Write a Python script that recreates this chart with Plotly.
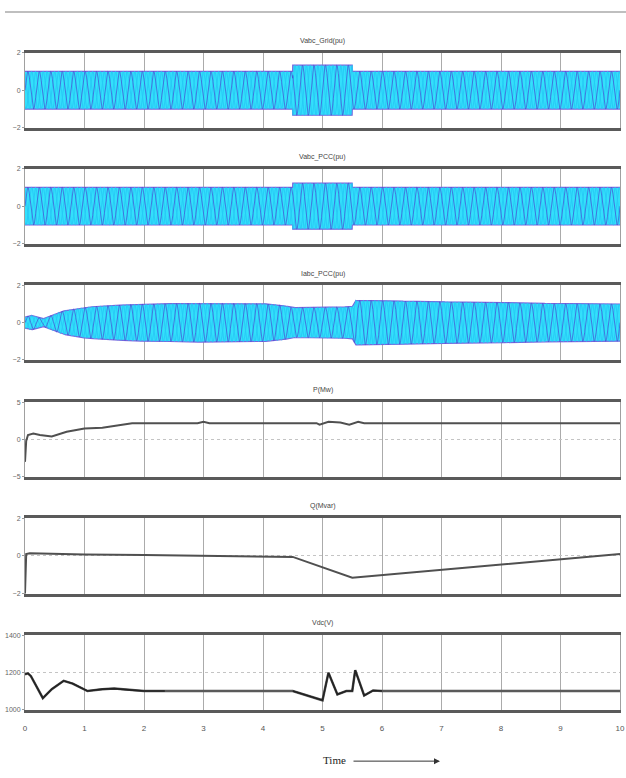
import numpy as np
import plotly.graph_objects as go

W, H = 626, 778
L, R = 25, 6

# ---------------- data ----------------
titles = ["Vabc_Grid(pu)", "Vabc_PCC(pu)", "Iabc_PCC(pu)", "P(Mw)", "Q(Mvar)", "Vdc(V)"]
y_ranges = [[-2, 2], [-2, 2], [-2, 2], [-5, 5], [-2, 2], [1000, 1400]]
y_ticks = [[-2, 0, 2], [-2, 0, 2], [-2, 0, 2], [-5, 0, 5], [-2, 0, 2], [1000, 1200, 1400]]
x_ticks = list(range(0, 11))

# envelopes of the three-phase waveforms (pu)
grid_env_t = [0, 4.5, 4.5, 5.5, 5.5, 10]
grid_env_v = [1.0, 1.0, 1.33, 1.33, 1.0, 1.0]
pcc_env_t = [0, 4.5, 4.5, 5.5, 5.5, 10]
pcc_env_v = [1.0, 1.0, 1.22, 1.22, 1.0, 1.0]
ipcc_env_t = [0, 0.1, 0.2, 0.3, 0.45, 0.6, 0.8, 1.0, 1.3, 1.7, 2.0, 2.5, 3.0, 3.5, 4.0,
              4.3, 4.5, 5.0, 5.5, 5.55, 6.0, 7.0, 8.0, 9.0, 10]
ipcc_env_v = [0.3, 0.4, 0.3, 0.2, 0.4, 0.6, 0.72, 0.82, 0.9, 0.96, 1.0, 1.02, 1.05, 1.03, 1.02,
              0.95, 0.8, 0.82, 0.85, 1.2, 1.18, 1.12, 1.08, 1.02, 1.0]
carrier_hz = 5.2  # apparent (aliased) stripe frequency of the dense AC traces

# active power (MW)
p_t = [0, 0.02, 0.05, 0.14, 0.25, 0.45, 0.7, 1.0, 1.3, 1.6, 1.8, 2.9, 3.0, 3.1,
       4.9, 4.95, 5.1, 5.3, 5.45, 5.6, 5.7, 10]
p_v = [-3.0, -0.2, 0.6, 0.8, 0.6, 0.4, 1.05, 1.5, 1.6, 1.9, 2.2, 2.2, 2.4, 2.2,
       2.2, 2.0, 2.4, 2.3, 2.0, 2.4, 2.2, 2.2]

# reactive power (Mvar)
q_t = [0, 0.02, 0.08, 1.0, 2.0, 3.0, 4.5, 5.5, 10]
q_v = [-2.0, 0.1, 0.15, 0.08, 0.05, 0.0, -0.05, -1.15, 0.1]

# DC-link voltage (V)
vdc_t = [0, 0.05, 0.1, 0.3, 0.45, 0.65, 0.8, 1.05, 1.3, 1.5, 1.8, 2.0, 2.35,
         4.5, 5.0, 5.1, 5.25, 5.4, 5.5, 5.55, 5.7, 5.85, 6.0, 10]
vdc_v = [1190, 1195, 1180, 1062, 1110, 1155, 1140, 1100, 1110, 1113, 1105, 1100, 1100,
         1100, 1050, 1198, 1082, 1100, 1100, 1212, 1076, 1103, 1100, 1100]
vdc_dark_windows = [(0, 2.35), (4.5, 6.0)]

# ---------------- figure ----------------
panels_px = [(49, 125), (166, 242), (284, 359), (402, 477), (519, 595), (637, 712)]

fig = go.Figure()
layout = dict(
    width=W, height=H,
    margin=dict(l=L, r=R, t=0, b=0),
    paper_bgcolor="white", plot_bgcolor="white",
    showlegend=False,
    font=dict(family="Liberation Sans", size=7, color="#555"),
)

for i, (top, bot) in enumerate(panels_px, start=1):
    layout[f"xaxis{i}"] = dict(
        domain=[0, 1], anchor=f"y{i}", range=[0, 10], tickvals=x_ticks,
        showticklabels=(i == 6), showgrid=True, gridcolor="#ababab", gridwidth=1,
        showline=True, mirror=True, linecolor="#5a5a5a", linewidth=2.5,
        ticks="", zeroline=False, tickfont=dict(size=8, color="#555"),
        ticklabelstandoff=9,
    )
    layout[f"yaxis{i}"] = dict(
        domain=[1 - bot / H, 1 - top / H], anchor=f"x{i}",
        range=y_ranges[i - 1], tickvals=y_ticks[i - 1],
        showgrid=True, gridcolor="#c4c4c4", griddash="dot", gridwidth=1,
        showline=True, mirror=True, linecolor="#a0a0a0", linewidth=1,
        zeroline=False, ticks="outside", ticklen=2, tickcolor="#999",
        tickfont=dict(size=7, color="#666"),
    )

t = np.linspace(0, 10, 5001)
phase_colors = ["rgba(70,85,215,0.75)", "rgba(40,200,245,0.9)", "rgba(40,200,245,0.9)"]


def add_ac(ax, env_t, env_v):
    env = np.interp(t, env_t, env_v)
    xa, ya = f"x{ax}", f"y{ax}"
    fig.add_trace(go.Scatter(x=t, y=env, mode="lines", line=dict(width=1.2, color="#7766dd"),
                             xaxis=xa, yaxis=ya, hoverinfo="skip"))
    fig.add_trace(go.Scatter(x=t, y=-env, mode="lines", line=dict(width=1.2, color="#7766dd"),
                             fill="tonexty", fillcolor="#33e0fb",
                             xaxis=xa, yaxis=ya, hoverinfo="skip"))
    for k in (1, 2, 0):
        y = env * np.sin(2 * np.pi * carrier_hz * t - 2 * np.pi * k / 3)
        fig.add_trace(go.Scatter(x=t, y=y, mode="lines",
                                 line=dict(width=1.0, color=phase_colors[k]),
                                 xaxis=xa, yaxis=ya, hoverinfo="skip"))


add_ac(1, grid_env_t, grid_env_v)
add_ac(2, pcc_env_t, pcc_env_v)
add_ac(3, ipcc_env_t, ipcc_env_v)

fig.add_trace(go.Scatter(x=p_t, y=p_v, mode="lines", line=dict(width=2, color="#505050"),
                         xaxis="x4", yaxis="y4"))
fig.add_trace(go.Scatter(x=q_t, y=q_v, mode="lines", line=dict(width=2, color="#505050"),
                         xaxis="x5", yaxis="y5"))
fig.add_trace(go.Scatter(x=vdc_t, y=vdc_v, mode="lines", line=dict(width=2.5, color="#5a5a5a"),
                         xaxis="x6", yaxis="y6"))
for a, b in vdc_dark_windows:
    xs = [x for x in vdc_t if a <= x <= b]
    ys = [v for x, v in zip(vdc_t, vdc_v) if a <= x <= b]
    fig.add_trace(go.Scatter(x=xs, y=ys, mode="lines", line=dict(width=1.6, color="#222"),
                             xaxis="x6", yaxis="y6"))

pw = W - L - R
ann = []
for (top, bot), title in zip(panels_px, titles):
    ann.append(dict(text=title, x=0.5, y=1 - (top - 12) / H, xref="paper", yref="paper",
                    xanchor="center", yanchor="middle",
                    showarrow=False, font=dict(size=7, color="#444")))
ann.append(dict(text="Time", x=(334 - L) / pw, y=1 - 763 / H, xref="paper", yref="paper",
                xanchor="center", yanchor="middle",
                showarrow=False, font=dict(family="Liberation Serif", size=11, color="#222")))
ann.append(dict(text="", x=(440 - L) / pw, y=1 - 764 / H, xref="paper", yref="paper",
                ax=-88, ay=0, axref="pixel", ayref="pixel", showarrow=True,
                arrowhead=2, arrowsize=1.2, arrowwidth=1, arrowcolor="#333"))
layout["annotations"] = ann
layout["shapes"] = [dict(type="line", xref="paper", yref="paper",
                         x0=(5 - L) / pw, x1=(626 - L) / pw, y0=1 - 8 / H, y1=1 - 8 / H,
                         line=dict(color="#aaa", width=1.5))]

fig.update_layout(**layout)
fig.write_html("out.html")
